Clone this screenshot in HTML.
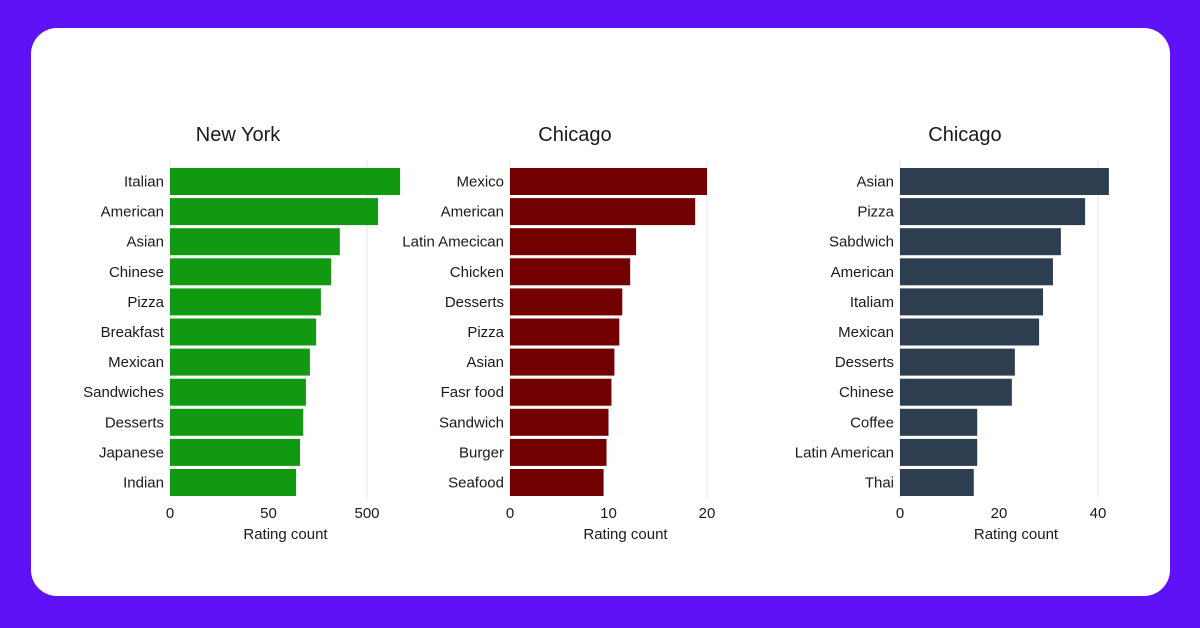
<!DOCTYPE html>
<html><head><meta charset="utf-8"><style>
html,body{margin:0;padding:0;width:1200px;height:628px;overflow:hidden;background:#5f12f5;}
#card{position:absolute;left:31px;top:28px;width:1139px;height:568px;background:#fff;border-radius:26px;}
svg{position:absolute;left:0;top:0;}
text{font-family:"Liberation Sans",sans-serif;fill:#1a1a1a;}
</style></head><body>
<div id="card"></div>
<svg id="chart" width="1200" height="628"></svg>
<script>
const nyCategories=["Italian","American","Asian","Chinese","Pizza","Breakfast","Mexican","Sandwiches","Desserts","Japanese","Indian"];
const nyValues=[584,528,431,409,383,371,355,345,338,330,320];
const nyTicks=[0,250,500];
const nyTickLabels=["0","50","500"];
const chi1Categories=["Mexico","American","Latin Amecican","Chicken","Desserts","Pizza","Asian","Fasr food","Sandwich","Burger","Seafood"];
const chi1Values=[20,18.8,12.8,12.2,11.4,11.1,10.6,10.3,10.0,9.8,9.5];
const chi1Ticks=[0,10,20];
const chi1TickLabels=["0","10","20"];
const chi2Categories=["Asian","Pizza","Sabdwich","American","Italiam","Mexican","Desserts","Chinese","Coffee","Latin American","Thai"];
const chi2Values=[42.2,37.4,32.5,30.9,28.9,28.1,23.2,22.6,15.6,15.6,14.9];
const chi2Ticks=[0,20,40];
const chi2TickLabels=["0","20","40"];

const NS="http://www.w3.org/2000/svg";
const svg=document.getElementById('chart');
function mk(tag,attrs,parent){const e=document.createElementNS(NS,tag);for(const k in attrs)e.setAttribute(k,attrs[k]);(parent||svg).appendChild(e);return e;}

const panels=[
 {title:"New York",cats:nyCategories,vals:nyValues,ticks:nyTicks,labels:nyTickLabels,x0:170,x1:367,max:500,color:"#129912",titleX:238,key:"new-york"},
 {title:"Chicago",cats:chi1Categories,vals:chi1Values,ticks:chi1Ticks,labels:chi1TickLabels,x0:510,x1:707,max:20,color:"#720000",titleX:575,key:"chicago-1"},
 {title:"Chicago",cats:chi2Categories,vals:chi2Values,ticks:chi2Ticks,labels:chi2TickLabels,x0:900,x1:1098,max:40,color:"#2d3e50",titleX:965,key:"chicago-2"}
];
const top0=168,pitch=30.1,bh=27;
panels.forEach(p=>{
 const g=mk('g',{});
 
 
 const xs=v=>p.x0+(v/p.max)*(p.x1-p.x0);
 const yb=i=>top0+i*pitch;
 const t=mk('text',{x:p.titleX,y:141,'text-anchor':'middle','font-size':20},g);
 t.textContent=p.title;
 
 
 p.ticks.forEach((tv,i)=>{
  if(i===0||i===p.ticks.length-1){
   const gl=mk('line',{x1:xs(tv),x2:xs(tv),y1:160,y2:498,stroke:'#e6e6e6','stroke-width':1},g);
   
   
  }
  const tl=mk('text',{x:xs(tv),y:518,'text-anchor':'middle','font-size':15},g);
  tl.textContent=p.labels[i];
  
  
 });
 p.cats.forEach((c,i)=>{
  const r=mk('rect',{x:p.x0,y:yb(i),width:xs(p.vals[i])-p.x0,height:bh,fill:p.color},g);
  
  
  const l=mk('text',{x:p.x0-6,y:yb(i)+bh/2+5,'text-anchor':'end','font-size':15},g);
  l.textContent=c;
  
  
 });
 const at=mk('text',{x:(p.x0+p.x1)/2+17,y:539,'text-anchor':'middle','font-size':15},g);
 at.textContent="Rating count";
 
 
});
</script>
</body></html>
